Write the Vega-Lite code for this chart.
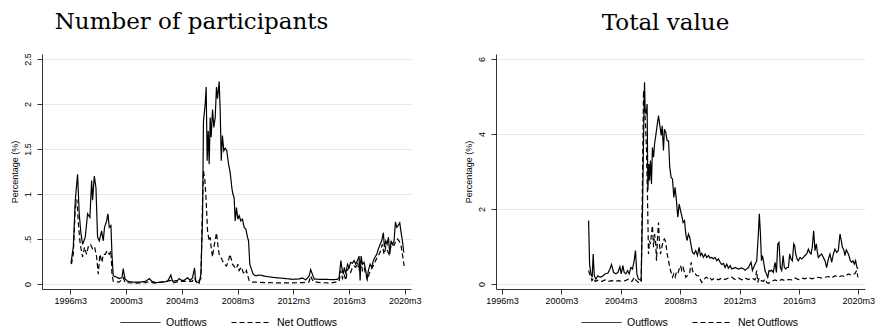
{
"$schema": "https://vega.github.io/schema/vega-lite/v6.json",
"padding": {"left": 10, "top": 10, "right": 0, "bottom": 0},
"bounds": "flush",
"spacing": 85,
"config": {
 "view": {"stroke": null},
 "font": "Liberation Sans",
 "axis": {"labelFont": "Liberation Sans", "labelFontSize": 9, "labelColor": "#000", "titleFont": "Liberation Sans", "titleFontSize": 9, "titleFontWeight": "normal", "titleColor": "#000", "domainColor": "#333", "tickColor": "#333", "tickSize": 5, "domainWidth": 1, "tickWidth": 1},
 "axisX": {"grid": false, "labelPadding": 2},
 "axisY": {"grid": true, "gridColor": "#e0ecec", "gridWidth": 1, "labelAngle": 270, "labelAlign": "center", "labelBaseline": "bottom", "labelPadding": 5, "titlePadding": 4},
 "legend": {"labelFont": "Liberation Sans", "labelFontSize": 10.5, "labelColor": "#000", "symbolType": "stroke", "symbolSize": 1600, "symbolStrokeWidth": 1, "symbolStrokeColor": "#000", "labelOffset": 5, "columnPadding": 22},
 "title": {"font": "DejaVu Serif", "fontSize": 23, "fontWeight": "normal", "color": "#000", "offset": 19}
},
"resolve": {"scale": {"x": "independent", "y": "independent", "strokeDash": "independent"}, "legend": {"strokeDash": "independent"}},
"datasets": {
"a": [
{"s":"Outflows","t":0.6,"v":0.23},{"s":"Outflows","t":2.6,"v":0.41},{"s":"Outflows","t":4.3,"v":0.93},{"s":"Outflows","t":6.3,"v":1.22},{"s":"Outflows","t":7.7,"v":0.78},{"s":"Outflows","t":9.2,"v":0.56},{"s":"Outflows","t":10.6,"v":0.44},{"s":"Outflows","t":12.9,"v":0.52},{"s":"Outflows","t":14.9,"v":0.78},{"s":"Outflows","t":16.9,"v":0.74},{"s":"Outflows","t":18.4,"v":1.15},{"s":"Outflows","t":19.2,"v":0.93},{"s":"Outflows","t":20.7,"v":1.2},{"s":"Outflows","t":22.1,"v":1.07},{"s":"Outflows","t":23.5,"v":0.52},{"s":"Outflows","t":25,"v":0.48},{"s":"Outflows","t":27,"v":0.59},{"s":"Outflows","t":28.4,"v":0.48},{"s":"Outflows","t":29.5,"v":0.63},{"s":"Outflows","t":31.3,"v":0.7},{"s":"Outflows","t":32.4,"v":0.78},{"s":"Outflows","t":33.6,"v":0.63},{"s":"Outflows","t":35,"v":0.65},{"s":"Outflows","t":35.9,"v":0.33},{"s":"Outflows","t":37,"v":0.09},{"s":"Outflows","t":39.3,"v":0.08},{"s":"Outflows","t":42.2,"v":0.06},{"s":"Outflows","t":44.5,"v":0.07},{"s":"Outflows","t":45.6,"v":0.17},{"s":"Outflows","t":47,"v":0.06},{"s":"Outflows","t":49.3,"v":0.03},{"s":"Outflows","t":53.6,"v":0.02},{"s":"Outflows","t":59.4,"v":0.02},{"s":"Outflows","t":65,"v":0.03},{"s":"Outflows","t":68,"v":0.06},{"s":"Outflows","t":70.3,"v":0.03},{"s":"Outflows","t":73.7,"v":0.015},{"s":"Outflows","t":79.5,"v":0.02},{"s":"Outflows","t":83.8,"v":0.03},{"s":"Outflows","t":86.6,"v":0.1},{"s":"Outflows","t":88,"v":0.03},{"s":"Outflows","t":92.4,"v":0.04},{"s":"Outflows","t":93.8,"v":0.06},{"s":"Outflows","t":96,"v":0.04},{"s":"Outflows","t":98,"v":0.04},{"s":"Outflows","t":101,"v":0.07},{"s":"Outflows","t":103.3,"v":0.04},{"s":"Outflows","t":105.3,"v":0.07},{"s":"Outflows","t":107,"v":0.18},{"s":"Outflows","t":108,"v":0.03},{"s":"Outflows","t":111,"v":0.01},{"s":"Outflows","t":112.5,"v":0.11},{"s":"Outflows","t":113.9,"v":0.74},{"s":"Outflows","t":114.7,"v":1.81},{"s":"Outflows","t":116.2,"v":2.0},{"s":"Outflows","t":117,"v":2.19},{"s":"Outflows","t":117.9,"v":1.37},{"s":"Outflows","t":118.8,"v":1.7},{"s":"Outflows","t":119.6,"v":1.33},{"s":"Outflows","t":120.5,"v":1.85},{"s":"Outflows","t":121.3,"v":1.63},{"s":"Outflows","t":122.5,"v":1.94},{"s":"Outflows","t":123.6,"v":1.74},{"s":"Outflows","t":124.8,"v":1.85},{"s":"Outflows","t":125.9,"v":2.19},{"s":"Outflows","t":126.8,"v":2.06},{"s":"Outflows","t":128.2,"v":2.25},{"s":"Outflows","t":129.1,"v":1.93},{"s":"Outflows","t":130,"v":1.37},{"s":"Outflows","t":131,"v":1.65},{"s":"Outflows","t":132.2,"v":1.48},{"s":"Outflows","t":133.4,"v":1.51},{"s":"Outflows","t":134.8,"v":1.48},{"s":"Outflows","t":136.3,"v":1.33},{"s":"Outflows","t":137.7,"v":1.24},{"s":"Outflows","t":139.1,"v":1.07},{"s":"Outflows","t":140,"v":1.0},{"s":"Outflows","t":141.1,"v":0.96},{"s":"Outflows","t":142,"v":0.7},{"s":"Outflows","t":143.1,"v":0.85},{"s":"Outflows","t":144.3,"v":0.72},{"s":"Outflows","t":145.4,"v":0.76},{"s":"Outflows","t":146.9,"v":0.7},{"s":"Outflows","t":148.3,"v":0.72},{"s":"Outflows","t":149.7,"v":0.63},{"s":"Outflows","t":151.2,"v":0.61},{"s":"Outflows","t":152.6,"v":0.52},{"s":"Outflows","t":153.5,"v":0.48},{"s":"Outflows","t":154.6,"v":0.22},{"s":"Outflows","t":155.8,"v":0.17},{"s":"Outflows","t":157.5,"v":0.11},{"s":"Outflows","t":159.8,"v":0.09},{"s":"Outflows","t":162.7,"v":0.1},{"s":"Outflows","t":168.4,"v":0.085},{"s":"Outflows","t":174.1,"v":0.074},{"s":"Outflows","t":179.9,"v":0.067},{"s":"Outflows","t":185.6,"v":0.06},{"s":"Outflows","t":191.3,"v":0.052},{"s":"Outflows","t":197,"v":0.056},{"s":"Outflows","t":199.9,"v":0.067},{"s":"Outflows","t":202.8,"v":0.045},{"s":"Outflows","t":205.7,"v":0.09},{"s":"Outflows","t":207,"v":0.16},{"s":"Outflows","t":209,"v":0.09},{"s":"Outflows","t":210,"v":0.055},{"s":"Outflows","t":214.3,"v":0.052},{"s":"Outflows","t":220,"v":0.052},{"s":"Outflows","t":225.8,"v":0.048},{"s":"Outflows","t":230,"v":0.052},{"s":"Outflows","t":231.5,"v":0.07},{"s":"Outflows","t":233,"v":0.26},{"s":"Outflows","t":233.8,"v":0.185},{"s":"Outflows","t":235,"v":0.11},{"s":"Outflows","t":236,"v":0.185},{"s":"Outflows","t":237.2,"v":0.11},{"s":"Outflows","t":238.7,"v":0.22},{"s":"Outflows","t":240,"v":0.185},{"s":"Outflows","t":241.5,"v":0.24},{"s":"Outflows","t":243,"v":0.23},{"s":"Outflows","t":244.4,"v":0.26},{"s":"Outflows","t":245.8,"v":0.22},{"s":"Outflows","t":247.3,"v":0.26},{"s":"Outflows","t":248.7,"v":0.31},{"s":"Outflows","t":249.6,"v":0.04},{"s":"Outflows","t":250.4,"v":0.31},{"s":"Outflows","t":251.6,"v":0.22},{"s":"Outflows","t":253,"v":0.24},{"s":"Outflows","t":254.4,"v":0.15},{"s":"Outflows","t":255.6,"v":0.055},{"s":"Outflows","t":256.7,"v":0.15},{"s":"Outflows","t":258.2,"v":0.22},{"s":"Outflows","t":259.6,"v":0.185},{"s":"Outflows","t":261,"v":0.26},{"s":"Outflows","t":262.5,"v":0.3},{"s":"Outflows","t":263.9,"v":0.33},{"s":"Outflows","t":265.3,"v":0.39},{"s":"Outflows","t":266.8,"v":0.44},{"s":"Outflows","t":268.2,"v":0.48},{"s":"Outflows","t":269.6,"v":0.57},{"s":"Outflows","t":270.5,"v":0.41},{"s":"Outflows","t":271.7,"v":0.48},{"s":"Outflows","t":272.8,"v":0.44},{"s":"Outflows","t":274,"v":0.52},{"s":"Outflows","t":275.1,"v":0.33},{"s":"Outflows","t":276.2,"v":0.48},{"s":"Outflows","t":277.4,"v":0.44},{"s":"Outflows","t":278.8,"v":0.48},{"s":"Outflows","t":280,"v":0.69},{"s":"Outflows","t":281.1,"v":0.63},{"s":"Outflows","t":282.3,"v":0.65},{"s":"Outflows","t":283.7,"v":0.68},{"s":"Outflows","t":284.9,"v":0.57},{"s":"Outflows","t":286,"v":0.48},{"s":"Outflows","t":287.2,"v":0.35},
{"s":"Net Outflows","t":1,"v":0.22},{"s":"Net Outflows","t":2.6,"v":0.33},{"s":"Net Outflows","t":4.3,"v":0.85},{"s":"Net Outflows","t":5.7,"v":0.94},{"s":"Net Outflows","t":7.2,"v":0.63},{"s":"Net Outflows","t":8.6,"v":0.44},{"s":"Net Outflows","t":10.6,"v":0.3},{"s":"Net Outflows","t":12.3,"v":0.41},{"s":"Net Outflows","t":14,"v":0.33},{"s":"Net Outflows","t":15.8,"v":0.43},{"s":"Net Outflows","t":17.5,"v":0.44},{"s":"Net Outflows","t":19.2,"v":0.39},{"s":"Net Outflows","t":21,"v":0.41},{"s":"Net Outflows","t":22.7,"v":0.3},{"s":"Net Outflows","t":24.1,"v":0.11},{"s":"Net Outflows","t":25.5,"v":0.33},{"s":"Net Outflows","t":27.3,"v":0.24},{"s":"Net Outflows","t":28.4,"v":0.33},{"s":"Net Outflows","t":30.1,"v":0.33},{"s":"Net Outflows","t":31.8,"v":0.37},{"s":"Net Outflows","t":33.6,"v":0.33},{"s":"Net Outflows","t":35,"v":0.37},{"s":"Net Outflows","t":35.9,"v":0.11},{"s":"Net Outflows","t":37,"v":0.03},{"s":"Net Outflows","t":42.2,"v":0.02},{"s":"Net Outflows","t":45.6,"v":0.07},{"s":"Net Outflows","t":47.3,"v":0.015},{"s":"Net Outflows","t":55,"v":0.01},{"s":"Net Outflows","t":65,"v":0.015},{"s":"Net Outflows","t":68,"v":0.03},{"s":"Net Outflows","t":72,"v":0.01},{"s":"Net Outflows","t":86.6,"v":0.04},{"s":"Net Outflows","t":88,"v":0.01},{"s":"Net Outflows","t":94,"v":0.03},{"s":"Net Outflows","t":101,"v":0.03},{"s":"Net Outflows","t":105,"v":0.03},{"s":"Net Outflows","t":107,"v":0.07},{"s":"Net Outflows","t":109,"v":0.01},{"s":"Net Outflows","t":112.5,"v":0.06},{"s":"Net Outflows","t":113.9,"v":0.93},{"s":"Net Outflows","t":114.7,"v":1.26},{"s":"Net Outflows","t":115.9,"v":1.15},{"s":"Net Outflows","t":117,"v":0.93},{"s":"Net Outflows","t":118.2,"v":0.59},{"s":"Net Outflows","t":119.6,"v":0.48},{"s":"Net Outflows","t":120.5,"v":0.52},{"s":"Net Outflows","t":121.3,"v":0.41},{"s":"Net Outflows","t":122.5,"v":0.3},{"s":"Net Outflows","t":123.6,"v":0.41},{"s":"Net Outflows","t":124.8,"v":0.48},{"s":"Net Outflows","t":125.9,"v":0.57},{"s":"Net Outflows","t":127,"v":0.44},{"s":"Net Outflows","t":128.2,"v":0.33},{"s":"Net Outflows","t":129.7,"v":0.3},{"s":"Net Outflows","t":131,"v":0.26},{"s":"Net Outflows","t":132.8,"v":0.22},{"s":"Net Outflows","t":134.5,"v":0.2},{"s":"Net Outflows","t":136.3,"v":0.26},{"s":"Net Outflows","t":137.4,"v":0.33},{"s":"Net Outflows","t":138.6,"v":0.28},{"s":"Net Outflows","t":139.7,"v":0.22},{"s":"Net Outflows","t":141.4,"v":0.19},{"s":"Net Outflows","t":143.1,"v":0.17},{"s":"Net Outflows","t":144.3,"v":0.22},{"s":"Net Outflows","t":145.4,"v":0.15},{"s":"Net Outflows","t":147.2,"v":0.19},{"s":"Net Outflows","t":148.9,"v":0.13},{"s":"Net Outflows","t":150.6,"v":0.11},{"s":"Net Outflows","t":151.7,"v":0.15},{"s":"Net Outflows","t":152.9,"v":0.09},{"s":"Net Outflows","t":154,"v":0.04},{"s":"Net Outflows","t":155.8,"v":0.02},{"s":"Net Outflows","t":160,"v":0.02},{"s":"Net Outflows","t":170,"v":0.015},{"s":"Net Outflows","t":180,"v":0.012},{"s":"Net Outflows","t":190,"v":0.012},{"s":"Net Outflows","t":200,"v":0.015},{"s":"Net Outflows","t":205.5,"v":0.02},{"s":"Net Outflows","t":207,"v":0.09},{"s":"Net Outflows","t":209,"v":0.03},{"s":"Net Outflows","t":215,"v":0.015},{"s":"Net Outflows","t":225,"v":0.012},{"s":"Net Outflows","t":231.5,"v":0.03},{"s":"Net Outflows","t":233,"v":0.15},{"s":"Net Outflows","t":234.4,"v":0.06},{"s":"Net Outflows","t":235.8,"v":0.11},{"s":"Net Outflows","t":237.2,"v":0.04},{"s":"Net Outflows","t":238.7,"v":0.15},{"s":"Net Outflows","t":240,"v":0.185},{"s":"Net Outflows","t":241.5,"v":0.13},{"s":"Net Outflows","t":243,"v":0.185},{"s":"Net Outflows","t":244.4,"v":0.2},{"s":"Net Outflows","t":245.8,"v":0.185},{"s":"Net Outflows","t":247.3,"v":0.24},{"s":"Net Outflows","t":248.7,"v":0.15},{"s":"Net Outflows","t":250.1,"v":0.26},{"s":"Net Outflows","t":251.6,"v":0.15},{"s":"Net Outflows","t":253,"v":0.185},{"s":"Net Outflows","t":254.4,"v":0.11},{"s":"Net Outflows","t":255.8,"v":0.045},{"s":"Net Outflows","t":257.3,"v":0.11},{"s":"Net Outflows","t":258.7,"v":0.15},{"s":"Net Outflows","t":260.1,"v":0.185},{"s":"Net Outflows","t":261.6,"v":0.22},{"s":"Net Outflows","t":263,"v":0.26},{"s":"Net Outflows","t":264.4,"v":0.3},{"s":"Net Outflows","t":265.9,"v":0.33},{"s":"Net Outflows","t":267.3,"v":0.37},{"s":"Net Outflows","t":268.7,"v":0.44},{"s":"Net Outflows","t":270.2,"v":0.33},{"s":"Net Outflows","t":271.7,"v":0.41},{"s":"Net Outflows","t":273.1,"v":0.37},{"s":"Net Outflows","t":274.5,"v":0.33},{"s":"Net Outflows","t":276,"v":0.41},{"s":"Net Outflows","t":277.4,"v":0.44},{"s":"Net Outflows","t":278.8,"v":0.43},{"s":"Net Outflows","t":280.3,"v":0.48},{"s":"Net Outflows","t":281.7,"v":0.5},{"s":"Net Outflows","t":283.1,"v":0.48},{"s":"Net Outflows","t":284.6,"v":0.44},{"s":"Net Outflows","t":286,"v":0.33},{"s":"Net Outflows","t":287.5,"v":0.2}
],
"b": [
{"s":"Outflows","t":70,"v":1.69},{"s":"Outflows","t":70.8,"v":0.53},{"s":"Outflows","t":71.9,"v":0.27},{"s":"Outflows","t":72.9,"v":0.18},{"s":"Outflows","t":73.7,"v":0.8},{"s":"Outflows","t":74.6,"v":0.22},{"s":"Outflows","t":75.9,"v":0.13},{"s":"Outflows","t":77.5,"v":0.22},{"s":"Outflows","t":79.4,"v":0.18},{"s":"Outflows","t":81.3,"v":0.21},{"s":"Outflows","t":83.4,"v":0.27},{"s":"Outflows","t":85.6,"v":0.29},{"s":"Outflows","t":87.2,"v":0.4},{"s":"Outflows","t":88.5,"v":0.52},{"s":"Outflows","t":90.2,"v":0.31},{"s":"Outflows","t":92,"v":0.27},{"s":"Outflows","t":93.7,"v":0.31},{"s":"Outflows","t":95.3,"v":0.46},{"s":"Outflows","t":96.4,"v":0.27},{"s":"Outflows","t":97.7,"v":0.49},{"s":"Outflows","t":98.8,"v":0.31},{"s":"Outflows","t":100.1,"v":0.27},{"s":"Outflows","t":101.5,"v":0.36},{"s":"Outflows","t":102.8,"v":0.27},{"s":"Outflows","t":104.2,"v":0.44},{"s":"Outflows","t":105.5,"v":0.4},{"s":"Outflows","t":106.8,"v":0.62},{"s":"Outflows","t":107.9,"v":0.89},{"s":"Outflows","t":109,"v":0.27},{"s":"Outflows","t":110.3,"v":0.13},{"s":"Outflows","t":112.5,"v":0.1},{"s":"Outflows","t":113.6,"v":2.04},{"s":"Outflows","t":114.4,"v":3.82},{"s":"Outflows","t":115.2,"v":5.38},{"s":"Outflows","t":115.7,"v":4.62},{"s":"Outflows","t":116.5,"v":4.53},{"s":"Outflows","t":117.3,"v":4.8},{"s":"Outflows","t":117.9,"v":2.49},{"s":"Outflows","t":118.7,"v":3.2},{"s":"Outflows","t":119.2,"v":2.76},{"s":"Outflows","t":120,"v":3.29},{"s":"Outflows","t":120.8,"v":2.67},{"s":"Outflows","t":121.6,"v":3.64},{"s":"Outflows","t":122.5,"v":3.38},{"s":"Outflows","t":123.3,"v":3.73},{"s":"Outflows","t":124.1,"v":3.91},{"s":"Outflows","t":125.2,"v":4.18},{"s":"Outflows","t":126.5,"v":4.49},{"s":"Outflows","t":127.6,"v":4.22},{"s":"Outflows","t":128.7,"v":3.96},{"s":"Outflows","t":129.5,"v":4.22},{"s":"Outflows","t":130.5,"v":3.56},{"s":"Outflows","t":131.3,"v":4.13},{"s":"Outflows","t":132.4,"v":4.04},{"s":"Outflows","t":133.5,"v":3.82},{"s":"Outflows","t":134.6,"v":3.82},{"s":"Outflows","t":135.6,"v":3.11},{"s":"Outflows","t":136.7,"v":2.84},{"s":"Outflows","t":137.8,"v":2.8},{"s":"Outflows","t":138.9,"v":2.31},{"s":"Outflows","t":139.9,"v":2.58},{"s":"Outflows","t":141,"v":2.22},{"s":"Outflows","t":142.1,"v":1.78},{"s":"Outflows","t":143.2,"v":2.13},{"s":"Outflows","t":144.3,"v":1.96},{"s":"Outflows","t":145.3,"v":1.82},{"s":"Outflows","t":146.4,"v":1.64},{"s":"Outflows","t":147.5,"v":1.69},{"s":"Outflows","t":148.6,"v":1.33},{"s":"Outflows","t":149.6,"v":1.16},{"s":"Outflows","t":150.7,"v":1.33},{"s":"Outflows","t":151.8,"v":1.24},{"s":"Outflows","t":152.9,"v":1.02},{"s":"Outflows","t":154,"v":0.84},{"s":"Outflows","t":155.3,"v":0.8},{"s":"Outflows","t":156.6,"v":0.89},{"s":"Outflows","t":158,"v":0.76},{"s":"Outflows","t":159.3,"v":0.98},{"s":"Outflows","t":160.4,"v":0.76},{"s":"Outflows","t":161.5,"v":0.82},{"s":"Outflows","t":162.8,"v":0.71},{"s":"Outflows","t":164.2,"v":0.8},{"s":"Outflows","t":165.5,"v":0.71},{"s":"Outflows","t":166.9,"v":0.76},{"s":"Outflows","t":168.2,"v":0.69},{"s":"Outflows","t":169.6,"v":0.71},{"s":"Outflows","t":170.9,"v":0.67},{"s":"Outflows","t":172.2,"v":0.71},{"s":"Outflows","t":173.6,"v":0.62},{"s":"Outflows","t":174.9,"v":0.67},{"s":"Outflows","t":176.3,"v":0.58},{"s":"Outflows","t":177.6,"v":0.52},{"s":"Outflows","t":179,"v":0.55},{"s":"Outflows","t":180.3,"v":0.44},{"s":"Outflows","t":181.7,"v":0.53},{"s":"Outflows","t":183,"v":0.42},{"s":"Outflows","t":184.4,"v":0.49},{"s":"Outflows","t":185.7,"v":0.4},{"s":"Outflows","t":188.4,"v":0.44},{"s":"Outflows","t":191.1,"v":0.4},{"s":"Outflows","t":193.8,"v":0.43},{"s":"Outflows","t":196.5,"v":0.37},{"s":"Outflows","t":199.2,"v":0.44},{"s":"Outflows","t":201.3,"v":0.58},{"s":"Outflows","t":202.4,"v":0.36},{"s":"Outflows","t":204,"v":0.49},{"s":"Outflows","t":205.9,"v":0.62},{"s":"Outflows","t":207.2,"v":1.33},{"s":"Outflows","t":208,"v":1.87},{"s":"Outflows","t":208.9,"v":1.33},{"s":"Outflows","t":209.7,"v":0.62},{"s":"Outflows","t":210.5,"v":0.76},{"s":"Outflows","t":211.5,"v":0.58},{"s":"Outflows","t":212.6,"v":0.36},{"s":"Outflows","t":213.7,"v":0.27},{"s":"Outflows","t":214.8,"v":0.18},{"s":"Outflows","t":215.8,"v":0.36},{"s":"Outflows","t":216.9,"v":0.34},{"s":"Outflows","t":218,"v":0.37},{"s":"Outflows","t":219.3,"v":0.31},{"s":"Outflows","t":220.7,"v":0.58},{"s":"Outflows","t":221.8,"v":0.31},{"s":"Outflows","t":222.9,"v":1.07},{"s":"Outflows","t":223.9,"v":1.11},{"s":"Outflows","t":225,"v":0.44},{"s":"Outflows","t":226.1,"v":0.36},{"s":"Outflows","t":227.2,"v":0.76},{"s":"Outflows","t":228.2,"v":0.44},{"s":"Outflows","t":229.3,"v":0.4},{"s":"Outflows","t":230.4,"v":0.44},{"s":"Outflows","t":231.5,"v":0.44},{"s":"Outflows","t":232.5,"v":0.8},{"s":"Outflows","t":233.6,"v":0.67},{"s":"Outflows","t":234.7,"v":0.62},{"s":"Outflows","t":235.8,"v":1.07},{"s":"Outflows","t":236.6,"v":1.02},{"s":"Outflows","t":237.4,"v":0.8},{"s":"Outflows","t":238.5,"v":0.67},{"s":"Outflows","t":239.5,"v":0.62},{"s":"Outflows","t":240.9,"v":0.71},{"s":"Outflows","t":242.2,"v":0.67},{"s":"Outflows","t":243.6,"v":0.71},{"s":"Outflows","t":244.9,"v":0.76},{"s":"Outflows","t":246.3,"v":0.8},{"s":"Outflows","t":247.6,"v":0.93},{"s":"Outflows","t":248.7,"v":0.84},{"s":"Outflows","t":249.8,"v":0.8},{"s":"Outflows","t":250.8,"v":0.98},{"s":"Outflows","t":251.9,"v":1.42},{"s":"Outflows","t":253,"v":0.89},{"s":"Outflows","t":254.1,"v":1.07},{"s":"Outflows","t":254.9,"v":0.84},{"s":"Outflows","t":255.7,"v":0.71},{"s":"Outflows","t":257,"v":0.76},{"s":"Outflows","t":258.4,"v":0.8},{"s":"Outflows","t":259.7,"v":0.71},{"s":"Outflows","t":261.1,"v":0.62},{"s":"Outflows","t":262.4,"v":0.44},{"s":"Outflows","t":263.8,"v":0.67},{"s":"Outflows","t":265.1,"v":0.8},{"s":"Outflows","t":266.5,"v":0.58},{"s":"Outflows","t":267.8,"v":0.8},{"s":"Outflows","t":269.1,"v":0.93},{"s":"Outflows","t":270.5,"v":0.84},{"s":"Outflows","t":271.8,"v":0.89},{"s":"Outflows","t":273.2,"v":1.33},{"s":"Outflows","t":274,"v":1.2},{"s":"Outflows","t":275.1,"v":0.98},{"s":"Outflows","t":276.1,"v":0.93},{"s":"Outflows","t":277.2,"v":0.76},{"s":"Outflows","t":278.3,"v":0.91},{"s":"Outflows","t":279.4,"v":0.84},{"s":"Outflows","t":280.4,"v":0.76},{"s":"Outflows","t":281.5,"v":0.62},{"s":"Outflows","t":282.6,"v":0.58},{"s":"Outflows","t":283.7,"v":0.62},{"s":"Outflows","t":284.8,"v":0.53},{"s":"Outflows","t":285.8,"v":0.62},{"s":"Outflows","t":286.9,"v":0.44},{"s":"Outflows","t":287.7,"v":0.4},
{"s":"Net Outflows","t":70,"v":0.36},{"s":"Net Outflows","t":71.3,"v":0.22},{"s":"Net Outflows","t":72.7,"v":0.09},{"s":"Net Outflows","t":74,"v":0.16},{"s":"Net Outflows","t":75.4,"v":0.07},{"s":"Net Outflows","t":78,"v":0.11},{"s":"Net Outflows","t":80.7,"v":0.07},{"s":"Net Outflows","t":83.4,"v":0.11},{"s":"Net Outflows","t":86.1,"v":0.07},{"s":"Net Outflows","t":88.8,"v":0.09},{"s":"Net Outflows","t":91.5,"v":0.07},{"s":"Net Outflows","t":94.2,"v":0.09},{"s":"Net Outflows","t":96.9,"v":0.07},{"s":"Net Outflows","t":99.6,"v":0.09},{"s":"Net Outflows","t":102.3,"v":0.13},{"s":"Net Outflows","t":105,"v":0.07},{"s":"Net Outflows","t":107.1,"v":0.18},{"s":"Net Outflows","t":108.5,"v":0.09},{"s":"Net Outflows","t":110.3,"v":0.04},{"s":"Net Outflows","t":112.5,"v":0.04},{"s":"Net Outflows","t":113.6,"v":2.93},{"s":"Net Outflows","t":114.4,"v":5.16},{"s":"Net Outflows","t":115.2,"v":4.71},{"s":"Net Outflows","t":116,"v":4.27},{"s":"Net Outflows","t":116.8,"v":3.56},{"s":"Net Outflows","t":117.6,"v":2.31},{"s":"Net Outflows","t":118.4,"v":0.8},{"s":"Net Outflows","t":119.2,"v":1.16},{"s":"Net Outflows","t":120,"v":1.07},{"s":"Net Outflows","t":120.8,"v":1.33},{"s":"Net Outflows","t":121.6,"v":1.56},{"s":"Net Outflows","t":122.5,"v":0.98},{"s":"Net Outflows","t":123.3,"v":1.33},{"s":"Net Outflows","t":124.1,"v":1.16},{"s":"Net Outflows","t":124.9,"v":0.62},{"s":"Net Outflows","t":125.7,"v":1.24},{"s":"Net Outflows","t":126.5,"v":1.64},{"s":"Net Outflows","t":127.3,"v":1.07},{"s":"Net Outflows","t":128.1,"v":0.8},{"s":"Net Outflows","t":129.2,"v":0.98},{"s":"Net Outflows","t":130.3,"v":1.16},{"s":"Net Outflows","t":131.3,"v":1.2},{"s":"Net Outflows","t":132.4,"v":1.11},{"s":"Net Outflows","t":133.5,"v":0.8},{"s":"Net Outflows","t":134.6,"v":0.62},{"s":"Net Outflows","t":135.6,"v":0.44},{"s":"Net Outflows","t":136.7,"v":0.31},{"s":"Net Outflows","t":137.8,"v":0.18},{"s":"Net Outflows","t":138.9,"v":0.27},{"s":"Net Outflows","t":139.9,"v":0.18},{"s":"Net Outflows","t":141,"v":0.31},{"s":"Net Outflows","t":142.1,"v":0.27},{"s":"Net Outflows","t":143.2,"v":0.4},{"s":"Net Outflows","t":144.3,"v":0.49},{"s":"Net Outflows","t":145.3,"v":0.36},{"s":"Net Outflows","t":146.4,"v":0.44},{"s":"Net Outflows","t":147.5,"v":0.31},{"s":"Net Outflows","t":148.6,"v":0.18},{"s":"Net Outflows","t":149.6,"v":0.22},{"s":"Net Outflows","t":150.7,"v":0.27},{"s":"Net Outflows","t":151.8,"v":0.31},{"s":"Net Outflows","t":152.9,"v":0.58},{"s":"Net Outflows","t":154,"v":0.36},{"s":"Net Outflows","t":155,"v":0.27},{"s":"Net Outflows","t":156.1,"v":0.27},{"s":"Net Outflows","t":157.5,"v":0.22},{"s":"Net Outflows","t":158.8,"v":0.22},{"s":"Net Outflows","t":160.1,"v":0.13},{"s":"Net Outflows","t":161.5,"v":0.04},{"s":"Net Outflows","t":162.8,"v":0.09},{"s":"Net Outflows","t":164.2,"v":0.16},{"s":"Net Outflows","t":165.5,"v":0.18},{"s":"Net Outflows","t":166.9,"v":0.13},{"s":"Net Outflows","t":168.2,"v":0.16},{"s":"Net Outflows","t":169.6,"v":0.11},{"s":"Net Outflows","t":172.2,"v":0.16},{"s":"Net Outflows","t":174.9,"v":0.11},{"s":"Net Outflows","t":177.6,"v":0.16},{"s":"Net Outflows","t":180.3,"v":0.12},{"s":"Net Outflows","t":183,"v":0.16},{"s":"Net Outflows","t":185.7,"v":0.18},{"s":"Net Outflows","t":188.4,"v":0.12},{"s":"Net Outflows","t":191.1,"v":0.16},{"s":"Net Outflows","t":193.8,"v":0.11},{"s":"Net Outflows","t":196.5,"v":0.16},{"s":"Net Outflows","t":199.2,"v":0.12},{"s":"Net Outflows","t":201.9,"v":0.16},{"s":"Net Outflows","t":204.5,"v":0.11},{"s":"Net Outflows","t":205.9,"v":0.36},{"s":"Net Outflows","t":206.7,"v":0.04},{"s":"Net Outflows","t":207.8,"v":0.16},{"s":"Net Outflows","t":209.4,"v":0.09},{"s":"Net Outflows","t":211.3,"v":0.07},{"s":"Net Outflows","t":212.6,"v":0.13},{"s":"Net Outflows","t":214,"v":0.04},{"s":"Net Outflows","t":215.3,"v":0.02},{"s":"Net Outflows","t":218,"v":0.07},{"s":"Net Outflows","t":220.7,"v":0.11},{"s":"Net Outflows","t":223.4,"v":0.07},{"s":"Net Outflows","t":226.1,"v":0.12},{"s":"Net Outflows","t":228.8,"v":0.09},{"s":"Net Outflows","t":231.5,"v":0.12},{"s":"Net Outflows","t":234.2,"v":0.11},{"s":"Net Outflows","t":236.9,"v":0.16},{"s":"Net Outflows","t":239.5,"v":0.12},{"s":"Net Outflows","t":242.2,"v":0.16},{"s":"Net Outflows","t":244.9,"v":0.14},{"s":"Net Outflows","t":247.6,"v":0.18},{"s":"Net Outflows","t":250.3,"v":0.14},{"s":"Net Outflows","t":253,"v":0.16},{"s":"Net Outflows","t":255.7,"v":0.18},{"s":"Net Outflows","t":258.4,"v":0.16},{"s":"Net Outflows","t":261.1,"v":0.18},{"s":"Net Outflows","t":263.8,"v":0.2},{"s":"Net Outflows","t":266.5,"v":0.16},{"s":"Net Outflows","t":269.1,"v":0.22},{"s":"Net Outflows","t":271.8,"v":0.18},{"s":"Net Outflows","t":274.5,"v":0.22},{"s":"Net Outflows","t":277.2,"v":0.2},{"s":"Net Outflows","t":279.9,"v":0.27},{"s":"Net Outflows","t":282.6,"v":0.23},{"s":"Net Outflows","t":285.3,"v":0.28},{"s":"Net Outflows","t":286.6,"v":0.36},{"s":"Net Outflows","t":287.7,"v":0.18}
]
},
"hconcat": [
 {
  "title": {"text": "Number of participants", "anchor": "middle", "dx": -35},
  "width": 369, "height": 235,
  "data": {"name": "a"},
  "mark": {"type": "line", "color": "#000", "strokeWidth": 1.2, "clip": true},
  "encoding": {
   "x": {"field": "t", "type": "quantitative", "scale": {"domain": [-24.35, 293.4], "nice": false, "zero": false}, "axis": {"title": null, "values": [0,48,96,144,192,240,288], "labelExpr": "(1996 + datum.value/12) + 'm3'"}},
   "y": {"field": "v", "type": "quantitative", "scale": {"domain": [-0.0556, 2.556], "nice": false, "zero": false}, "axis": {"title": "Percentage (%)", "values": [0,0.5,1,1.5,2,2.5], "labelExpr": "datum.value == 0.5 ? '.5' : toString(datum.value)"}},
   "strokeDash": {"field": "s", "type": "nominal", "scale": {"domain": ["Outflows", "Net Outflows"], "range": [[1,0],[5,3]]}, "legend": {"title": null, "orient": "none", "direction": "horizontal", "legendX": 78, "legendY": 248}}
  }
 },
 {
  "title": {"text": "Total value", "anchor": "middle", "dx": -15},
  "width": 369, "height": 235,
  "data": {"name": "b"},
  "mark": {"type": "line", "color": "#000", "strokeWidth": 1.2, "clip": true},
  "encoding": {
   "x": {"field": "t", "type": "quantitative", "scale": {"domain": [-4.84, 293.4], "nice": false, "zero": false}, "axis": {"title": null, "values": [0,48,96,144,192,240,288], "labelExpr": "(1996 + datum.value/12) + 'm3'"}},
   "y": {"field": "v", "type": "quantitative", "scale": {"domain": [-0.133, 6.133], "nice": false, "zero": false}, "axis": {"title": "Percentage (%)", "values": [0,2,4,6], "labelExpr": "toString(datum.value)"}},
   "strokeDash": {"field": "s", "type": "nominal", "scale": {"domain": ["Outflows", "Net Outflows"], "range": [[1,0],[5,3]]}, "legend": {"title": null, "orient": "none", "direction": "horizontal", "legendX": 85, "legendY": 248}}
  }
 }
]
}
